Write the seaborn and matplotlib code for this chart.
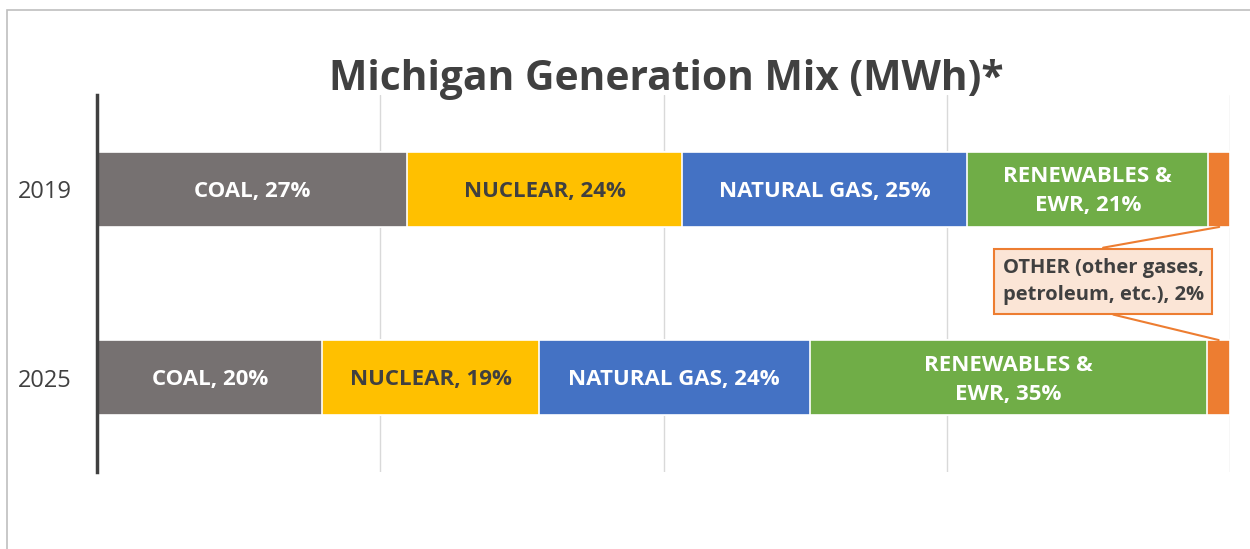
import matplotlib
matplotlib.use("Agg")
import matplotlib.pyplot as plt
from matplotlib.patches import Rectangle
import numpy as np
import pandas as pd
import seaborn as sns

years = ["2019", "2025"]
sources = ["COAL", "NUCLEAR", "NATURAL GAS", "RENEWABLES &\nEWR", "OTHER"]
coal = [27.4, 19.9]
nuclear = [24.2, 19.1]
natural_gas = [25.2, 23.9]
renewables = [21.3, 35.1]
other = [1.9, 2.0]
other_label = "OTHER (other gases,\npetroleum, etc.), 2%"

colors = ["#767171", "#FFC000", "#4472C4", "#70AD47", "#ED7D31"]
label_colors = ["white", "#404040", "white", "white", None]
text_dark = "#404040"

sns.set_theme(style="white")
plt.rcParams["font.family"] = ["Open Sans", "DejaVu Sans"]

values = np.array([coal, nuclear, natural_gas, renewables, other])
cum = values.cumsum(axis=0)

fig = plt.figure(figsize=(12.5, 5.49), dpi=100)
ax = fig.add_axes([97 / 1250, 1 - 472 / 549, 1133 / 1250, 377 / 549])

# stacked bars: draw cumulative totals from the widest down
for i in range(len(sources) - 1, -1, -1):
    df = pd.DataFrame({"year": years, "value": cum[i]})
    sns.barplot(data=df, x="value", y="year", orient="h", color=colors[i],
                width=0.4, saturation=1, edgecolor="white", linewidth=1.2,
                ax=ax, zorder=3)

ax.set_xlim(0, 100)
ax.set_ylim(1.5, -0.5)
ax.set_xticks([25, 50, 75, 100])
ax.set_xticklabels([])
ax.grid(axis="x", color="#D9D9D9", linewidth=1, zorder=0)
ax.grid(axis="y", visible=False)
ax.tick_params(axis="both", length=0)
ax.tick_params(axis="y", labelsize=17, labelcolor=text_dark, pad=18)
ax.set_xlabel("")
ax.set_ylabel("")
for side in ["top", "right", "bottom"]:
    ax.spines[side].set_visible(False)
ax.spines["left"].set_color(text_dark)
ax.spines["left"].set_linewidth(2.5)
ax.spines["left"].set_zorder(5)

# segment labels
for i, name in enumerate(sources):
    if label_colors[i] is None:
        continue
    for j in range(len(years)):
        center = cum[i, j] - values[i, j] / 2
        ax.text(center, j + 0.01, f"{name}, {round(values[i, j])}%", ha="center",
                va="center", fontsize=16, fontweight="bold",
                color=label_colors[i], zorder=6, linespacing=1.5)

# callout for OTHER
box_x, box_y = 88.8, 0.49
ax.text(box_x, box_y, other_label, ha="center", va="center", fontsize=14.5,
        fontweight="bold", color=text_dark, zorder=7, linespacing=1.5,
        bbox=dict(boxstyle="square,pad=0.42", facecolor="#FBE5D6",
                  edgecolor="#ED7D31", linewidth=1.5))
other_x = cum[-1] - values[-1] / 2
ax.plot([box_x, other_x[0]], [0.31, 0.2], color="#ED7D31", lw=1.5, zorder=6)
ax.plot([box_x + 0.9, other_x[1]], [0.665, 0.8], color="#ED7D31", lw=1.5, zorder=6)

fig.text(666 / 1250, 1 - 80 / 549, "Michigan Generation Mix (MWh)*",
         ha="center", va="center", fontsize=29.3, fontweight="bold", color=text_dark)

fig.patches.append(Rectangle((7 / 1250, -0.1), 1.2, 1.1 - 10 / 549,
                             transform=fig.transFigure, fill=False,
                             edgecolor="#BFBFBF", linewidth=1.2))

fig.savefig("out.png", dpi=100)
